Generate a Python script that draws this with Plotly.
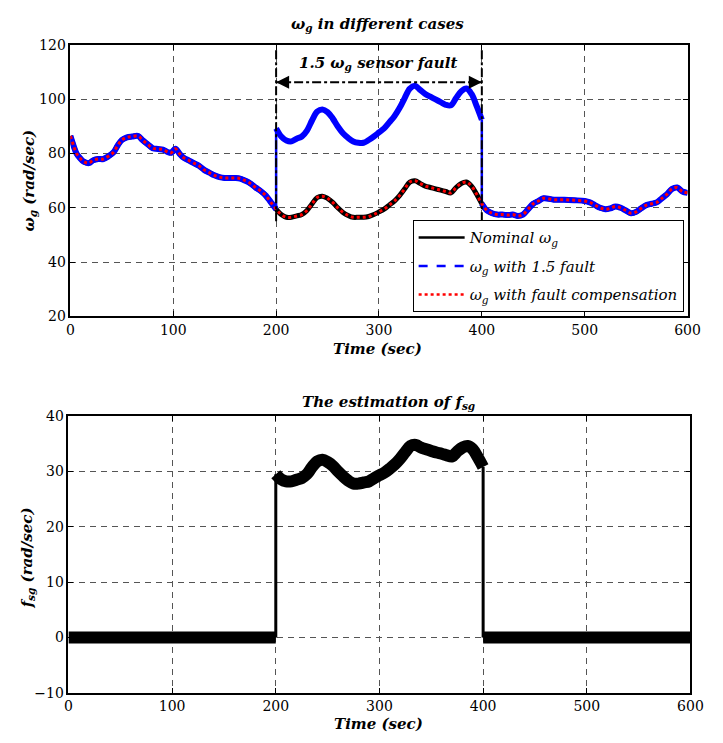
import plotly.graph_objects as go

W, H = 723, 743

# ---- data ----
time_nom = [0, 3, 6, 9, 13, 18, 22, 27, 32, 37, 42, 46, 50, 55, 60, 66, 70, 75, 80, 85,
            90, 95, 98, 102, 106, 110, 115, 120, 125, 130, 135, 140, 145, 150, 155, 160,
            165, 170, 175, 180, 185, 190, 195, 200, 205, 210, 215, 220, 225, 230, 235,
            240, 245, 250, 255, 260, 265, 270, 275, 280, 285, 290, 295, 300, 305, 310,
            315, 320, 325, 330, 335, 340, 345, 350, 355, 360, 365, 370, 375, 380, 385,
            390, 395, 400, 405, 410, 415, 420, 425, 430, 435, 440, 445, 450, 455, 460,
            470, 480, 490, 500, 505, 510, 515, 520, 525, 530, 535, 540, 545, 550, 555,
            560, 565, 570, 575, 580, 585, 590, 595, 600]
omega_nominal = [86.5, 83, 80, 78.5, 77, 76.5, 77.5, 78, 78, 79, 80.5, 83, 85, 86, 86.3,
                 86.5, 85, 83.5, 82, 81.7, 81.5, 80.5, 80.3, 81.8, 80, 78.5, 77.5, 76.5,
                 75.5, 74, 73, 72, 71.3, 71, 71, 71, 70.8, 70, 69, 67.5, 66.2, 64.5, 62,
                 59.5, 57.5, 56.5, 56.5, 57, 57.5, 59, 61.5, 63.8, 64.3, 63.5, 62, 60,
                 58.3, 57.2, 56.5, 56.5, 56.5, 56.8, 57.5, 58.5, 59.5, 61, 62.5, 64.5, 67,
                 69.5, 70, 69, 68, 67.5, 67, 66.5, 66, 65.5, 67.5, 69, 69.5, 68, 65, 61.5,
                 59, 58, 57.5, 57.5, 57.3, 57.5, 57, 57.5, 59.5, 61.5, 62.5, 63.5, 63, 63,
                 62.8, 62.5, 62, 61, 60, 59.5, 59.8, 60.5, 60, 59, 58, 58.5, 59.8, 61,
                 61.5, 62, 63.5, 65, 67, 67.5, 66, 65.5]

time_fault = [200, 205, 210, 215, 220, 225, 230, 235, 240, 245, 250, 255, 260, 265, 270,
              275, 280, 285, 290, 295, 300, 305, 310, 315, 320, 325, 330, 335, 340, 345,
              350, 355, 360, 365, 370, 375, 380, 385, 390, 395, 400]
omega_faulty = [89.3, 86.3, 84.8, 84.5, 85.5, 86.3, 88.5, 92.3, 95.5, 96.3, 95.3, 93, 90,
                87.5, 85.8, 84.5, 84, 84, 85, 86.3, 87.8, 89.3, 91.5, 93.8, 96.8, 100.5,
                104, 105, 103.5, 102, 101, 100, 99, 98, 97.8, 100.5, 103, 104, 102, 97.5,
                92.5]
fsg_fault = [29.5, 28.6, 28.2, 28.2, 28.5, 28.8, 29.5, 30.8, 31.8, 32.1, 31.7, 31, 30,
             29.1, 28.3, 27.8, 27.8, 28, 28.2, 28.8, 29.3, 29.8, 30.5, 31.3, 32.3, 33.5,
             34.6, 34.8, 34.3, 34, 33.7, 33.4, 33.2, 32.9, 32.7, 33.6, 34.3, 34.6, 34,
             32.5, 30.8]
time_nofault = [0, 200, 400, 600]
fsg_nofault = [0, 0, 0, 0]

x_ticks = [0, 100, 200, 300, 400, 500, 600]
y1_ticks = [20, 40, 60, 80, 100, 120]
y2_ticks = [-10, 0, 10, 20, 30, 40]
fault_start, fault_end = 200, 400

FONT = "DejaVu Serif"


def px(x):
    return x / W


def py(y):
    return 1 - y / H


fig = go.Figure()

# --- top plot ---
fig.add_trace(go.Scatter(x=time_nom, y=omega_nominal, mode="lines",
                         line=dict(color="black", width=5, shape="spline"),
                         showlegend=False, xaxis="x", yaxis="y"))

pre = [(t, v) for t, v in zip(time_nom, omega_nominal) if t <= fault_start]
post = [(t, v) for t, v in zip(time_nom, omega_nominal) if t >= fault_end]
bx = [p[0] for p in pre] + [None] + time_fault + [None] + [p[0] for p in post]
by = [p[1] for p in pre] + [None] + omega_faulty + [None] + [p[1] for p in post]
fig.add_trace(go.Scatter(x=bx, y=by, mode="lines", connectgaps=False,
                         line=dict(color="#0000ff", width=6, shape="spline"),
                         showlegend=False, xaxis="x", yaxis="y"))
fig.add_trace(go.Scatter(x=[fault_start, fault_start, None, fault_end, fault_end],
                         y=[pre[-1][1], omega_faulty[0], None, omega_faulty[-1], post[0][1]],
                         mode="lines", line=dict(color="#0000ff", width=2.5),
                         showlegend=False, xaxis="x", yaxis="y"))
fig.add_trace(go.Scatter(x=time_nom, y=omega_nominal, mode="lines",
                         line=dict(color="#ff0000", width=3, dash="dot", shape="spline"),
                         showlegend=False, xaxis="x", yaxis="y"))

# legend entries
fig.add_trace(go.Scatter(x=[None], y=[None], mode="lines", legendgroup="a",
                         line=dict(color="black", width=2.5),
                         name="<i>Nominal ω<sub>g</sub></i>", xaxis="x", yaxis="y"))
fig.add_trace(go.Scatter(x=[None], y=[None], mode="lines", legendgroup="b",
                         line=dict(color="#0000ff", width=2.5, dash="dash"),
                         name="<i>ω<sub>g</sub> with 1.5 fault</i>", xaxis="x", yaxis="y"))
fig.add_trace(go.Scatter(x=[None], y=[None], mode="lines", legendgroup="c",
                         line=dict(color="#ff0000", width=2.5, dash="dot"),
                         name="<i>ω<sub>g</sub> with fault compensation</i>", xaxis="x", yaxis="y"))

# --- bottom plot ---
fx = [time_nofault[0], time_nofault[1], None] + time_fault + [None, time_nofault[2], time_nofault[3]]
fy = [fsg_nofault[0], fsg_nofault[1], None] + fsg_fault + [None, fsg_nofault[2], fsg_nofault[3]]
fig.add_trace(go.Scatter(x=fx, y=fy, mode="lines", connectgaps=False,
                         line=dict(color="black", width=12, shape="spline"),
                         showlegend=False, xaxis="x2", yaxis="y2"))
fig.add_trace(go.Scatter(x=[fault_start, fault_start, None, fault_end, fault_end],
                         y=[fsg_nofault[1], fsg_fault[0], None, fsg_fault[-1], fsg_nofault[2]],
                         mode="lines", line=dict(color="black", width=3),
                         showlegend=False, xaxis="x2", yaxis="y2"))

# fault window markers
for xv in (fault_start, fault_end):
    fig.add_shape(type="line", xref="x", yref="y", x0=xv, x1=xv, y0=55, y1=119,
                  line=dict(color="black", width=2, dash="dashdot"))
fig.add_shape(type="line", xref="x", yref="y", x0=fault_start, x1=fault_end,
              y0=106.3, y1=106.3, line=dict(color="black", width=2, dash="dashdot"))
fig.add_annotation(x=fault_start, y=106.3, ax=fault_start + 10, ay=106.3, xref="x", yref="y",
                   axref="x", ayref="y", showarrow=True, arrowhead=2, arrowsize=1.3,
                   arrowwidth=2, arrowcolor="black", text="")
fig.add_annotation(x=fault_end, y=106.3, ax=fault_end - 10, ay=106.3, xref="x", yref="y",
                   axref="x", ayref="y", showarrow=True, arrowhead=2, arrowsize=1.3,
                   arrowwidth=2, arrowcolor="black", text="")
fig.add_annotation(x=299, y=113.2, xref="x", yref="y", showarrow=False,
                   xanchor="center", yanchor="middle",
                   text="<b><i>1.5 ω<sub>g</sub> sensor fault</i></b>",
                   font=dict(family=FONT, size=15, color="black"))

# titles
ann_font = dict(family=FONT, size=15, color="black")


def label(xp, yp, text, angle=0):
    fig.add_annotation(x=px(xp), y=py(yp), xref="paper", yref="paper", showarrow=False,
                       xanchor="center", yanchor="middle", textangle=angle,
                       text=text, font=ann_font)


label(383, 17, "<b><i>ω<sub>g</sub> in different cases</i></b>")
label(394, 403, "<b><i>The estimation of f<sub>sg</sub></i></b>")
label(383, 349, "<b><i>Time (sec)</i></b>")
label(384, 732, "<b><i>Time (sec)</i></b>")
label(26, 176, "<b><i>ω<sub>g</sub> (rad/sec)</i></b>", -90)
label(24, 562, "<b><i>f<sub>sg</sub> (rad/sec)</i></b>", -90)

axis_common = dict(showline=True, linecolor="black", linewidth=1.5, mirror="ticks",
                   ticks="inside", ticklen=5, tickcolor="black", tickwidth=1,
                   showgrid=True, gridcolor="#555555", griddash="6px,5px", gridwidth=1,
                   zeroline=False, tickfont=dict(family=FONT, size=14, color="black"))

fig.update_layout(
    width=W, height=H, margin=dict(l=0, r=0, t=0, b=0),
    paper_bgcolor="white", plot_bgcolor="white",
    xaxis=dict(domain=[px(68), px(700)], range=[0, 600], tickvals=x_ticks,
               anchor="y", **axis_common),
    yaxis=dict(domain=[py(315), py(38)], range=[20, 120], tickvals=y1_ticks,
               anchor="x", **axis_common),
    xaxis2=dict(domain=[px(66), px(703)], range=[0, 600], tickvals=x_ticks,
                anchor="y2", **axis_common),
    yaxis2=dict(domain=[py(700), py(417)], range=[-10, 40], tickvals=y2_ticks,
                anchor="x2", **axis_common),
    legend=dict(x=px(696), y=py(311), xanchor="right", yanchor="bottom",
                bgcolor="white", bordercolor="black", borderwidth=1,
                font=dict(family=FONT, size=15, color="black"), itemwidth=46,
                tracegroupgap=6),
    showlegend=True,
)

fig.write_html("out.html")
